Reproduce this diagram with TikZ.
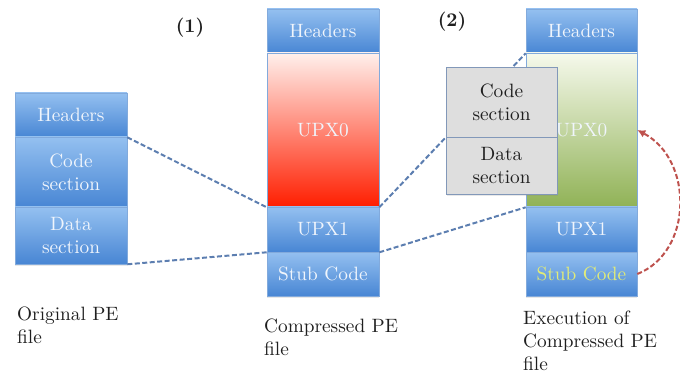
\documentclass[tikz,border=0pt]{standalone}
\usepackage{fontspec}
\usetikzlibrary{arrows.meta,shadows}

% Latin Modern at its 10pt design size: heavier strokes when set large
\newfontfamily\diagfont{lmroman10-regular.otf}[BoldFont=lmroman10-bold.otf]

\definecolor{segtop}{RGB}{148,192,240}
\definecolor{segbot}{RGB}{72,134,212}
\definecolor{segedge}{RGB}{130,170,220}
\definecolor{segtext}{RGB}{240,245,252}
\definecolor{stubtext}{RGB}{226,236,120}
\definecolor{packtop}{RGB}{255,240,236}
\definecolor{packbot}{RGB}{255,30,0}
\definecolor{unpacktop}{RGB}{246,249,236}
\definecolor{unpackbot}{RGB}{144,178,86}
\definecolor{grayfill}{RGB}{222,222,222}
\definecolor{grayedge}{RGB}{130,152,185}
\definecolor{linkblue}{RGB}{92,126,176}
\definecolor{linkred}{RGB}{190,82,78}

\begin{document}
\begin{tikzpicture}[x=1pt,y=-1pt,
  boxfont/.style={font=\diagfont\fontsize{19.3}{23}\selectfont},
  seg/.style={boxfont, draw=segedge, line width=0.6pt, top color=segtop,
    bottom color=segbot, text=segtext, minimum width=112pt, inner sep=0pt,
    align=center, drop shadow={opacity=0.18, shadow xshift=0pt, shadow yshift=-2pt}},
  packed/.style={seg, top color=packtop, bottom color=packbot},
  unpacked/.style={seg, top color=unpacktop, bottom color=unpackbot},
  overlay box/.style={boxfont, draw=grayedge, line width=0.6pt, fill=grayfill,
    text=black!88, minimum width=111pt, inner sep=0pt, align=center,
    drop shadow={opacity=0.18, shadow xshift=1pt, shadow yshift=-2pt}},
  caption/.style={boxfont, text=black!88, inner sep=0pt, align=left, anchor=north west},
  stepno/.style={font=\diagfont\bfseries\fontsize{19.3}{23}\selectfont, text=black!88, inner sep=0pt},
  link/.style={draw=linkblue, line width=2pt, dash pattern=on 5pt off 2.5pt},
  loopback/.style={draw=linkred, line width=2pt, dash pattern=on 5pt off 2.5pt,
    -{Latex[length=8pt,width=8pt]}}
]
\useasboundingbox (0,0) rectangle (680,374);

% original PE file
\node[seg, minimum height=44pt] (lhead) at (71,115) {Headers};
\node[seg, minimum height=70pt] (lcode) at (71,172) {Code\\section};
\node[seg, minimum height=57pt] (ldata) at (71,235.5) {Data\\section};

% compressed PE file
\node[seg, minimum height=44pt] (mhead) at (323,31) {Headers};
\node[packed, minimum height=154pt] (mupx0) at (323,130) {UPX0};
\node[seg, minimum height=45pt] (mupx1) at (323,229.5) {UPX1};
\node[seg, minimum height=44pt] (mstub) at (323,274) {Stub Code};

% compressed PE file while running
\node[seg, minimum width=111pt, minimum height=44pt] (rhead) at (581.5,31) {Headers};
\node[unpacked, minimum width=111pt, minimum height=154pt] (rupx0) at (581.5,130) {UPX0};
\node[seg, minimum width=111pt, minimum height=45pt] (rupx1) at (581.5,229.5) {UPX1};
\node[seg, minimum width=111pt, minimum height=44pt, text=stubtext] (rstub) at (581.5,274) {Stub Code};

% mapping of the sections
\draw[link] (lhead.south east) -- (mupx0.south west);
\draw[link] (ldata.south east) -- (mupx1.south west);
\draw[link] (mupx0.south east) -- (rhead.south west);
\draw[link] (mupx1.south east) -- (rupx0.south west);

% sections restored in memory
\node[overlay box, minimum height=70pt] (gcode) at (501.5,102) {Code\\section};
\node[overlay box, minimum height=57pt] (gdata) at (501.5,165.5) {Data\\section};

% stub jumps back into the unpacked code
\draw[loopback] (rstub.east) .. controls (693,252) and (694,160) .. (rupx0.east);

% step numbers
\node[stepno] (s1) at (190,28) {(1)};
\node[stepno] (s2) at (452,22) {(2)};

% captions
\node[caption] (corig) at (17,307) {Original PE\\file};
\node[caption] (ccomp) at (264,319) {Compressed PE\\file};
\node[caption] (cexec) at (523,311) {Execution of\\Compressed PE\\file};
\end{tikzpicture}
\end{document}
